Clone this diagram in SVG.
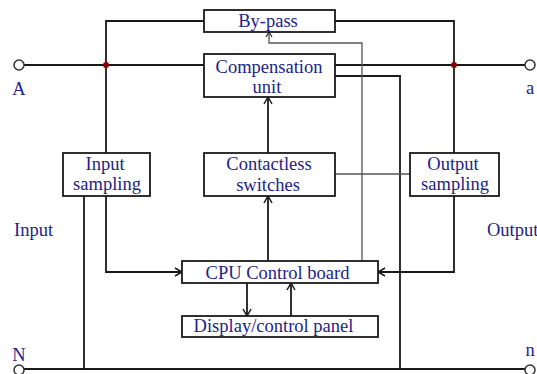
<svg xmlns="http://www.w3.org/2000/svg" width="537" height="374" viewBox="0 0 537 374">
<defs>
<style>
.box{fill:#fff;stroke:#1a1a1a;stroke-width:1.8}
.w{fill:none;stroke:#1a1a1a;stroke-width:1.8}
.g{fill:none;stroke:#555;stroke-width:1.3}
.t{font-family:"Liberation Serif","Times New Roman",serif;font-size:18.5px;fill:#22228a}
.term{fill:#fff;stroke:#333;stroke-width:1.5}
.dot{fill:#8b0000}
</style>
<marker id="ah" markerWidth="10" markerHeight="10" refX="8" refY="5" orient="auto" markerUnits="userSpaceOnUse">
<path d="M1,1 L8,5 L1,9" fill="none" stroke="#1a1a1a" stroke-width="1.5"/>
</marker>
<marker id="ahs" markerWidth="8" markerHeight="8" refX="6" refY="4" orient="auto" markerUnits="userSpaceOnUse">
<path d="M1,1 L6,4 L1,7" fill="none" stroke="#333" stroke-width="1.3"/>
</marker>
</defs>
<rect width="537" height="374" fill="#fff"/>
<g id="connectors">
<path class="w" d="M24,65 H204"/>
<path class="w" d="M335,65 H525"/>
<path class="w" d="M106,153 V21 H204"/>
<path class="w" d="M335,21 H454 V153"/>
<path class="w" d="M24,369 H525"/>
<path class="w" d="M335,76 H400 V369"/>
<path class="w" d="M84,196 V369"/>
<path class="w" d="M106,196 V272 H182" marker-end="url(#ah)"/>
<path class="w" d="M454,196 V272 H378" marker-end="url(#ah)"/>
<path class="w" d="M268,153 V97" marker-end="url(#ah)"/>
<path class="w" d="M268,261 V196" marker-end="url(#ah)"/>
<path class="w" d="M247,283 V316" marker-end="url(#ah)"/>
<path class="w" d="M291,316 V283" marker-end="url(#ah)"/>
<path class="g" d="M362,261 V43 H269 V32" marker-end="url(#ahs)"/>
<path class="g" d="M335,174 H410"/>
<circle class="dot" cx="106" cy="65" r="3"/>
<circle class="dot" cx="454" cy="65" r="3"/>
</g>
<g id="terminal-A"><circle class="term" cx="19" cy="65" r="5"/><text class="t" x="19" y="95" text-anchor="middle">A</text></g>
<g id="terminal-a"><circle class="term" cx="530" cy="65" r="5"/><text class="t" x="530" y="94" text-anchor="middle">a</text></g>
<g id="terminal-N"><circle class="term" cx="19" cy="370" r="5"/><text class="t" x="19" y="361" text-anchor="middle">N</text></g>
<g id="terminal-n"><circle class="term" cx="530" cy="370" r="5"/><text class="t" x="530" y="356" text-anchor="middle">n</text></g>
<g id="bypass"><rect class="box" x="204" y="10" width="131" height="22"/><text class="t" x="268" y="27" text-anchor="middle">By-pass</text></g>
<g id="compensation"><rect class="box" x="204" y="54" width="131" height="43"/><text class="t" x="269" y="73" text-anchor="middle">Compensation</text><text class="t" x="267" y="93" text-anchor="middle">unit</text></g>
<g id="input-sampling"><rect class="box" x="63" y="153" width="87" height="43"/><text class="t" x="105" y="170" text-anchor="middle">Input</text><text class="t" x="107" y="190" text-anchor="middle">sampling</text></g>
<g id="contactless"><rect class="box" x="204" y="153" width="131" height="43"/><text class="t" x="269" y="170" text-anchor="middle">Contactless</text><text class="t" x="268" y="191" text-anchor="middle">switches</text></g>
<g id="output-sampling"><rect class="box" x="410" y="153" width="89" height="43"/><text class="t" x="453" y="170" text-anchor="middle">Output</text><text class="t" x="455" y="190" text-anchor="middle">sampling</text></g>
<g id="cpu"><rect class="box" x="182" y="261" width="196" height="22"/><text class="t" x="277.5" y="279" text-anchor="middle">CPU Control board</text></g>
<g id="display"><rect class="box" x="182" y="316" width="196" height="21"/><text class="t" x="273.5" y="332" text-anchor="middle">Display/control panel</text></g>
<g id="label-input"><text class="t" x="14" y="236">Input</text></g>
<g id="label-output"><text class="t" x="487" y="236">Output</text></g>
</svg>
